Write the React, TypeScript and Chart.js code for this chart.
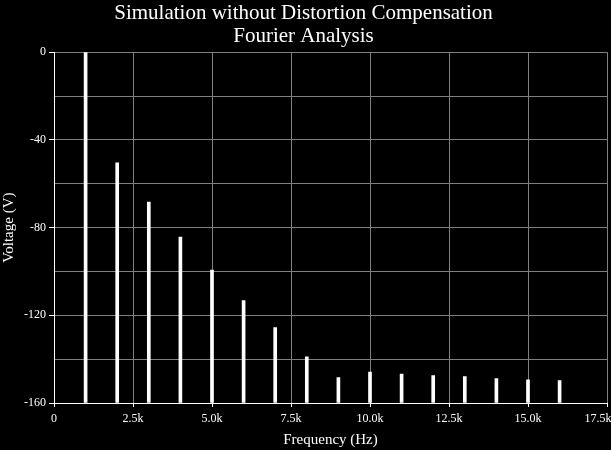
import React, { useEffect, useRef } from "react";
import { Chart, registerables } from "chart.js";

Chart.register(...registerables);

const titleLines = ["Simulation without Distortion Compensation", "Fourier Analysis"];
const xAxisTitle = "Frequency (Hz)";
const yAxisTitle = "Voltage (V)";

const frequencies = [1000, 2000, 3000, 4000, 5000, 6000, 7000, 8000, 9000, 10000, 11000, 12000, 13000, 14000, 15000, 16000];
const voltages = [0, -50.5, -68.4, -84.3, -99.4, -113.3, -125.6, -138.9, -148.4, -145.9, -146.8, -147.5, -148.0, -148.9, -149.4, -149.8];

const xTickLabels = ["0", "2.5k", "5.0k", "7.5k", "10.0k", "12.5k", "15.0k", "17.5k"];
const yTickLabels = ["0", "-40", "-80", "-120", "-160"];

const FONT = "'Liberation Serif', 'Times New Roman', serif";

export default function App() {
  const ref = useRef<HTMLCanvasElement>(null);

  useEffect(() => {
    document.body.style.margin = "0";
    document.body.style.background = "#000";
    const canvas = ref.current;
    if (!canvas) return;
    const chart = new Chart(canvas, {
      type: "bar",
      data: {
        datasets: [
          {
            data: frequencies.map((f, i) => ({ x: f, y: voltages[i] })),
            backgroundColor: "#ffffff",
            borderWidth: 0,
            barThickness: 3,
            base: -160,
          } as any,
        ],
      },
      options: {
        responsive: false,
        animation: false,
        events: [],
        layout: { padding: { left: 0, right: 4, top: 0, bottom: 0 } },
        plugins: {
          legend: { display: false },
          tooltip: { enabled: false },
          title: {
            display: true,
            text: titleLines,
            color: "#ffffff",
            font: { family: FONT, size: 21, weight: "normal", lineHeight: 1.1 },
            padding: { top: 2, bottom: 4 },
          },
        },
        scales: {
          x: {
            type: "linear",
            min: 0,
            max: 17500,
            offset: false,
            grid: {
              offset: false,
              color: "#808080",
              lineWidth: 1,
              tickLength: 4,
              tickColor: "#ffffff",
            },
            border: { color: "#ffffff", width: 1 },
            ticks: {
              stepSize: 2500,
              autoSkip: false,
              maxRotation: 0,
              color: "#ffffff",
              padding: 5,
              font: { family: FONT, size: 12 },
              callback: (v: any) => {
                const idx = Math.round(Number(v) / 2500);
                const lab = xTickLabels[idx] ?? "";
                return idx === xTickLabels.length - 1 ? lab + "\u00a0\u00a0\u00a0\u00a0\u00a0\u00a0" : lab;
              },
            },
            title: {
              display: true,
              text: xAxisTitle,
              color: "#ffffff",
              font: { family: FONT, size: 15 },
              padding: { top: 0, bottom: 1 },
            },
            afterFit: (s: any) => {
              s.height = 47;
              s.paddingLeft = 0;
              s.paddingRight = 0;
            },
          } as any,
          y: {
            type: "linear",
            min: -160,
            max: 0,
            grid: {
              color: "#808080",
              lineWidth: 1,
              tickLength: 5,
              tickColor: (ctx: any) =>
                ctx.tick && Math.round(ctx.tick.value) % 40 === 0 ? "#ffffff" : "rgba(0,0,0,0)",
            },
            border: { color: "#ffffff", width: 1 },
            ticks: {
              stepSize: 20,
              autoSkip: false,
              color: "#ffffff",
              padding: 3,
              font: { family: FONT, size: 12 },
              callback: (v: any) => {
                const n = Math.round(Number(v));
                if (n % 40 !== 0) return "";
                return yTickLabels[Math.round(-n / 40)] ?? "";
              },
            },
            title: {
              display: true,
              text: yAxisTitle,
              color: "#ffffff",
              font: { family: FONT, size: 15 },
              padding: { top: 0, bottom: 0 },
            },
            afterFit: (s: any) => {
              s.width = 54;
            },
          } as any,
        },
      },
    });
    return () => chart.destroy();
  }, []);

  return (
    <div style={{ position: "fixed", left: 0, top: 0, width: 611, height: 450, background: "#000" }}>
      <canvas ref={ref} width={611} height={450} style={{ display: "block" }} />
    </div>
  );
}
